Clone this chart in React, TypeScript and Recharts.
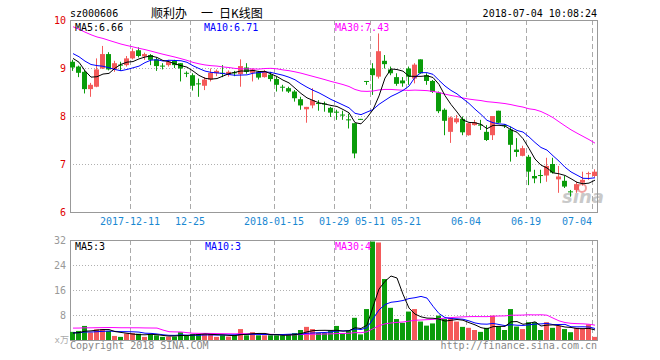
import {
  Bar,
  CartesianGrid,
  ComposedChart,
  Line,
  XAxis,
  YAxis,
} from 'recharts';

// trading days shown in the K-line window
const dates = [
  '2017-11-27', '2017-11-28', '2017-11-29', '2017-11-30', '2017-12-01', '2017-12-04', '2017-12-05', '2017-12-06', '2017-12-07', '2017-12-08',
  '2017-12-11', '2017-12-12', '2017-12-13', '2017-12-14', '2017-12-15', '2017-12-18', '2017-12-19', '2017-12-20', '2017-12-21', '2017-12-22',
  '2017-12-25', '2017-12-26', '2017-12-27', '2017-12-28', '2017-12-29', '2018-01-02', '2018-01-03', '2018-01-04', '2018-01-05', '2018-01-08',
  '2018-01-09', '2018-01-10', '2018-01-11', '2018-01-12', '2018-01-15', '2018-01-16', '2018-01-17', '2018-01-18', '2018-01-19', '2018-01-22',
  '2018-01-23', '2018-01-24', '2018-01-25', '2018-01-26', '2018-01-29', '2018-01-30', '2018-01-31', '2018-05-08', '2018-05-09', '2018-05-10',
  '2018-05-11', '2018-05-14', '2018-05-15', '2018-05-16', '2018-05-17', '2018-05-18', '2018-05-21', '2018-05-22', '2018-05-23', '2018-05-24',
  '2018-05-25', '2018-05-28', '2018-05-29', '2018-05-30', '2018-05-31', '2018-06-01', '2018-06-04', '2018-06-05', '2018-06-06', '2018-06-07',
  '2018-06-08', '2018-06-11', '2018-06-12', '2018-06-13', '2018-06-14', '2018-06-15', '2018-06-19', '2018-06-20', '2018-06-21', '2018-06-22',
  '2018-06-25', '2018-06-26', '2018-06-27', '2018-06-28', '2018-06-29', '2018-07-02', '2018-07-03', '2018-07-04',
];

const opens = [
  9.13, 9.03, 8.92, 8.56, 8.61, 8.99, 9.29, 8.97, 9.07, 9.06,
  9.20, 9.37, 9.24, 9.27, 9.18, 9.05, 9.06, 9.15, 9.10, 8.90,
  8.85, 8.68, 8.63, 8.76, 8.89, 8.90, 8.86, 8.91, 8.87, 9.01,
  8.90, 8.92, 8.81, 8.86, 8.77, 8.61, 8.58, 8.51, 8.35, 8.14,
  8.22, 8.27, 8.26, 8.17, 8.09, 8.03, 7.93, 7.85, 7.94, 8.73,
  8.99, 8.82, 9.15, 8.97, 8.81, 8.74, 8.99, 8.78, 9.18, 8.85,
  8.73, 8.49, 8.13, 7.67, 7.87, 7.94, 7.60, 7.81, 7.82, 7.67,
  7.60, 8.11, 7.81, 7.72, 7.30, 7.17, 7.15, 6.75, 6.77, 6.76,
  7.00, 6.68, 6.65, 6.43, 6.46, 6.61, 6.80, 6.75,
];

const highs = [
  9.17, 9.05, 8.96, 8.69, 9.20, 9.46, 9.33, 9.15, 9.13, 9.25,
  9.41, 9.43, 9.32, 9.29, 9.22, 9.10, 9.17, 9.17, 9.10, 8.93,
  8.89, 8.78, 8.81, 8.99, 8.97, 9.06, 8.95, 8.94, 9.18, 9.10,
  8.99, 8.94, 8.96, 8.92, 8.82, 8.65, 8.61, 8.54, 8.40, 8.19,
  8.58, 8.33, 8.30, 8.19, 8.13, 8.11, 8.05, 7.85, 7.94, 8.73,
  9.10, 9.72, 9.27, 9.03, 8.89, 8.81, 9.03, 9.10, 9.18, 8.89,
  8.75, 8.51, 8.16, 7.99, 8.02, 7.99, 7.85, 7.92, 7.92, 7.81,
  8.00, 8.11, 7.83, 7.78, 7.54, 7.38, 7.19, 6.88, 6.88, 7.13,
  7.13, 6.96, 6.75, 6.46, 6.63, 6.84, 6.84, 6.89,
];

const lows = [
  8.94, 8.81, 8.47, 8.40, 8.60, 8.98, 8.95, 8.92, 8.94, 9.03,
  9.18, 9.22, 9.17, 9.06, 8.94, 8.97, 9.03, 9.00, 8.72, 8.81,
  8.53, 8.40, 8.54, 8.72, 8.83, 8.81, 8.82, 8.83, 8.61, 8.88,
  8.72, 8.76, 8.80, 8.72, 8.51, 8.51, 8.48, 8.30, 8.13, 7.86,
  8.16, 8.11, 8.09, 7.98, 7.92, 7.92, 7.74, 7.12, 7.94, 8.65,
  8.44, 8.78, 8.99, 8.85, 8.63, 8.61, 8.65, 8.68, 8.88, 8.65,
  8.48, 8.06, 7.60, 7.44, 7.84, 7.60, 7.59, 7.80, 7.71, 7.48,
  7.50, 7.85, 7.75, 7.05, 7.15, 7.16, 6.56, 6.60, 6.60, 6.63,
  6.80, 6.40, 6.50, 6.32, 6.40, 6.55, 6.67, 6.73,
];

const closes = [
  9.01, 8.90, 8.56, 8.65, 8.97, 9.29, 8.97, 9.10, 9.05, 9.20,
  9.35, 9.25, 9.29, 9.17, 9.04, 9.03, 9.13, 9.06, 8.99, 8.88,
  8.63, 8.67, 8.76, 8.90, 8.94, 8.89, 8.92, 8.90, 9.04, 8.92,
  8.97, 8.80, 8.92, 8.77, 8.65, 8.60, 8.51, 8.37, 8.22, 8.19,
  8.33, 8.26, 8.25, 8.07, 8.08, 8.02, 7.92, 7.22, 7.94, 8.73,
  8.85, 9.35, 9.08, 8.89, 8.67, 8.68, 8.82, 9.07, 8.89, 8.73,
  8.50, 8.10, 7.90, 7.97, 7.95, 7.66, 7.85, 7.87, 7.80, 7.50,
  8.00, 7.86, 7.80, 7.40, 7.25, 7.33, 6.84, 6.70, 6.76, 6.96,
  6.82, 6.74, 6.53, 6.42, 6.58, 6.67, 6.81, 6.84,
];

// volume in 10k lots
const volumes = [
  2.6, 2.9, 4.5, 2.4, 3.4, 3.5, 2.9, 1.3, 1.0, 2.1,
  2.2, 2.0, 1.0, 1.8, 1.5, 1.0, 1.1, 1.1, 2.5, 1.4,
  1.9, 1.9, 1.9, 1.9, 1.0, 1.5, 1.1, 1.5, 3.5, 1.5,
  2.5, 1.5, 1.5, 1.5, 1.5, 1.5, 1.9, 2.2, 3.2, 4.2,
  3.5, 2.3, 2.3, 3.0, 4.5, 2.1, 2.9, 7.1, 1.8, 9.9,
  31.5, 31.2, 19.5, 10.3, 6.7, 5.5, 9.1, 9.9, 5.9, 4.6,
  5.3, 7.8, 6.7, 7.1, 5.9, 4.2, 3.9, 3.2, 2.6, 3.9,
  7.8, 4.3, 3.2, 9.9, 4.3, 3.5, 5.7, 5.7, 3.2, 5.7,
  3.9, 4.5, 3.5, 2.5, 3.9, 3.7, 5.0, 1.0,
];

// sessions before the window, only used to seed the moving averages
const priorCloses = [
  10.45, 10.38, 10.30, 10.35, 10.22, 10.18, 10.25, 10.20, 10.12, 10.19,
  10.15, 10.08, 10.12, 10.05, 9.98, 10.02, 9.95, 9.98, 9.93, 9.90,
  9.55, 9.48, 9.35, 9.20, 9.42, 9.30, 9.45, 9.31, 8.93,
];

const priorVolumes = [
  2.4, 2.1, 2.6, 2.2, 2.5, 2.0, 2.3, 2.4, 2.2, 2.5,
  2.1, 2.3, 2.4, 2.2, 20, 17, 3, 3, 8, 8,
  2.6, 2.2, 2.5, 2.3, 2.4, 2.0, 2.3, 1.9, 2.2,
];

const tickDates = ['2017-12-11', '2017-12-25', '2018-01-15', '2018-01-29', '2018-05-11', '2018-05-21', '2018-06-04', '2018-06-19', '2018-07-04'];
const tickTexts = ['2017-12-11', '12-25', '2018-01-15', '01-29', '05-11', '05-21', '06-04', '06-19', '07-04'];

const priceTicks = [6, 7, 8, 9, 10];
const volumeTicks = [0, 8, 16, 24, 32];

const UP = '#f45a5a';
const DOWN = '#0a9c0a';
const MONO = '"DejaVu Sans Mono", monospace';
const CJK = '"Noto Sans CJK SC", sans-serif';

const WIDTH = 660;
const PLOT_LEFT = 70;
const PLOT_RIGHT = 598;
const PRICE_TOP = 20;
const PRICE_BOTTOM = 212;
const VOL_TOP = 10;
const VOL_BOTTOM = 110;
const BAND = (PLOT_RIGHT - PLOT_LEFT) / dates.length;

function movingAverage(values: number[], prior: number[], n: number) {
  const all = [...prior, ...values];
  return values.map((_, i) => {
    const end = prior.length + i + 1;
    const win = all.slice(Math.max(0, end - n), end);
    return win.reduce((s, v) => s + v, 0) / win.length;
  });
}

const ma5 = movingAverage(closes, priorCloses, 5);
const ma10 = movingAverage(closes, priorCloses, 10);
const ma30 = movingAverage(closes, priorCloses, 30);
const vma5 = movingAverage(volumes, priorVolumes, 5);
const vma10 = movingAverage(volumes, priorVolumes, 10);
const vma30 = movingAverage(volumes, priorVolumes, 30);

const rows = dates.map((date, i) => ({
  date,
  open: opens[i],
  high: highs[i],
  low: lows[i],
  close: closes[i],
  range: [lows[i], highs[i]],
  ma5: ma5[i],
  ma10: ma10[i],
  ma30: ma30[i],
  volume: volumes[i],
  vma5: vma5[i],
  vma10: vma10[i],
  vma30: vma30[i],
}));

const last = dates.length - 1;
const gridXs = tickDates.map((d) => PLOT_LEFT + dates.indexOf(d) * BAND + 0.5);
const priceGridYs = [9, 8, 7].map((v) => PRICE_TOP + ((10 - v) / 4) * (PRICE_BOTTOM - PRICE_TOP) + 0.5);
const volGridYs = [24, 16, 8].map((v) => VOL_TOP + ((32 - v) / 32) * (VOL_BOTTOM - VOL_TOP) + 0.5);

function Candle(props: any) {
  const { x, y, height, payload } = props;
  const { open, close, high, low } = payload;
  const color = close > open ? UP : DOWN;
  const top = Math.min(y, y + height);
  const span = Math.abs(height);
  const toY = (v: number) => (high > low ? top + ((high - v) / (high - low)) * span : top);
  const left = Math.round(x);
  const bodyTop = toY(Math.max(open, close));
  const bodyH = Math.max(1, toY(Math.min(open, close)) - bodyTop);
  return (
    <g>
      <rect x={left + 2} y={top} width={1} height={Math.max(1, span)} fill={color} />
      <rect x={left} y={bodyTop} width={5} height={bodyH} fill={color} />
    </g>
  );
}

function VolumeBar(props: any) {
  const { x, y, height, payload } = props;
  const color = payload.close > payload.open ? UP : DOWN;
  return <rect x={Math.round(x)} y={y} width={5} height={Math.max(0, height)} fill={color} />;
}

function DateTick({ x, y, payload }: any) {
  const idx = tickDates.indexOf(payload.value);
  if (idx < 0) return <g />;
  const label = tickTexts[idx];
  const gx = x - BAND / 2;
  const atEdge = gx + label.length * 3 > PLOT_RIGHT - 4;
  return (
    <text
      x={gx}
      y={y + 13}
      textAnchor={atEdge ? 'end' : 'middle'}
      fontFamily={MONO}
      fontSize={10}
      fill="#1a88d2"
    >
      {label}
    </text>
  );
}

function PriceTick({ x, y, payload }: any) {
  return (
    <text x={x - 4} y={y + 3.5} textAnchor="end" fontFamily={MONO} fontSize={10} fill="#e00000">
      {payload.value}
    </text>
  );
}

function VolumeTick({ x, y, payload }: any) {
  if (payload.value === 0) {
    return (
      <text x={x - 1} y={y + 3} textAnchor="end" fontFamily={`${MONO}, ${CJK}`} fontSize={9} fill="#aaa">
        x万
      </text>
    );
  }
  return (
    <text x={x - 4} y={y + 3.5} textAnchor="end" fontFamily={MONO} fontSize={10} fill="#999">
      {payload.value}
    </text>
  );
}

const lineProps = { dot: false, activeDot: false, strokeWidth: 1, isAnimationActive: false };

export default function App() {
  return (
    <div style={{ position: 'absolute', left: 0, top: 0, width: WIDTH, height: 360, background: '#fff', overflow: 'hidden' }}>
      <svg width={WIDTH} height={360} style={{ position: 'absolute', left: 0, top: 0 }}>
        <text x={562} y={203} fontFamily="DejaVu Sans" fontStyle="italic" fontWeight="bold" fontSize={18} fill="#c9c9c9">
          sina
        </text>
        <circle cx={582} cy={188} r={4} fill="none" stroke="#f3a0a0" strokeWidth={2} />
      </svg>

      <div style={{ position: 'absolute', left: 0, top: 0 }}>
        <ComposedChart
          width={WIDTH}
          height={230}
          data={rows}
          margin={{ top: PRICE_TOP, right: WIDTH - PLOT_RIGHT, bottom: 0, left: 0 }}
          barCategoryGap={0}
        >
          <CartesianGrid vertical={false} horizontalPoints={priceGridYs} stroke="#b0b0b0" strokeDasharray="1 2" />
          <CartesianGrid horizontal={false} verticalPoints={gridXs} stroke="#aaa" strokeDasharray="5 3" />
          <CartesianGrid
            horizontalPoints={[PRICE_TOP + 0.5, PRICE_BOTTOM + 0.5]}
            verticalPoints={[PLOT_LEFT + 0.5, PLOT_RIGHT - 0.5]}
            stroke="#999"
          />
          <XAxis
            dataKey="date"
            interval={0}
            height={18}
            axisLine={false}
            tickLine={false}
            tickSize={0}
            tickMargin={0}
            tick={(p: any) => <DateTick {...p} />}
          />
          <YAxis
            domain={[6, 10]}
            ticks={priceTicks}
            allowDataOverflow
            width={PLOT_LEFT}
            axisLine={false}
            tickLine={false}
            tickSize={0}
            tickMargin={0}
            tick={(p: any) => <PriceTick {...p} />}
          />
          <Bar dataKey="range" barSize={6} shape={Candle} isAnimationActive={false} />
          <Line dataKey="ma30" stroke="#ff00ff" {...lineProps} />
          <Line dataKey="ma10" stroke="#0000ff" {...lineProps} />
          <Line dataKey="ma5" stroke="#000" {...lineProps} />
        </ComposedChart>
      </div>

      <div style={{ position: 'absolute', left: 0, top: 230 }}>
        <ComposedChart
          width={WIDTH}
          height={130}
          data={rows}
          margin={{ top: VOL_TOP, right: WIDTH - PLOT_RIGHT, bottom: 130 - VOL_BOTTOM, left: 0 }}
          barCategoryGap={0}
        >
          <CartesianGrid vertical={false} horizontalPoints={volGridYs} stroke="#b0b0b0" strokeDasharray="1 2" />
          <CartesianGrid horizontal={false} verticalPoints={gridXs} stroke="#aaa" strokeDasharray="5 3" />
          <CartesianGrid
            horizontalPoints={[VOL_TOP + 0.5, VOL_BOTTOM + 0.5]}
            verticalPoints={[PLOT_LEFT + 0.5, PLOT_RIGHT - 0.5]}
            stroke="#999"
          />
          <XAxis dataKey="date" hide />
          <YAxis
            domain={[0, 32]}
            ticks={volumeTicks}
            allowDataOverflow
            width={PLOT_LEFT}
            axisLine={false}
            tickLine={false}
            tickSize={0}
            tickMargin={0}
            tick={(p: any) => <VolumeTick {...p} />}
          />
          <Bar dataKey="volume" barSize={6} shape={VolumeBar} isAnimationActive={false} />
          <Line dataKey="vma30" stroke="#ff00ff" {...lineProps} />
          <Line dataKey="vma10" stroke="#0000ff" {...lineProps} />
          <Line dataKey="vma5" stroke="#000" {...lineProps} />
        </ComposedChart>
      </div>

      <svg width={WIDTH} height={360} style={{ position: 'absolute', left: 0, top: 0, pointerEvents: 'none' }}>
        <text x={70} y={17} fontFamily={MONO} fontSize={10} fill="#000">sz000606</text>
        <text x={151} y={17.5} fontFamily={CJK} fontSize={12} fill="#000">顺利办</text>
        <text x={201} y={17.5} fontFamily={CJK} fontSize={12} fill="#000">一</text>
        <text x={219} y={17.5} fontFamily={CJK} fontSize={12} fill="#000">日K线图</text>
        <text x={597} y={17} textAnchor="end" fontFamily={MONO} fontSize={10} fill="#000">2018-07-04 10:08:24</text>

        <text x={75} y={30.5} fontFamily={MONO} fontSize={10} fill="#000">{`MA5:${ma5[last].toFixed(2)}`}</text>
        <text x={204} y={30.5} fontFamily={MONO} fontSize={10} fill="#0000ff">{`MA10:${ma10[last].toFixed(2)}`}</text>
        <text x={335} y={30.5} fontFamily={MONO} fontSize={10} fill="#ff00ff">{`MA30:${ma30[last].toFixed(2)}`}</text>

        <text x={75} y={249.5} fontFamily={MONO} fontSize={10} fill="#000">{`MA5:${Math.floor(vma5[last])}`}</text>
        <text x={205} y={249.5} fontFamily={MONO} fontSize={10} fill="#0000ff">{`MA10:${Math.floor(vma10[last])}`}</text>
        <text x={335} y={249.5} fontFamily={MONO} fontSize={10} fill="#ff00ff">{`MA30:${Math.floor(vma30[last])}`}</text>

        <text x={70} y={349} fontFamily={MONO} fontSize={10} fill="#888">Copyright 2018 SINA.COM</text>
        <text x={597} y={349} textAnchor="end" fontFamily={MONO} fontSize={10} fill="#888">http://finance.sina.com.cn</text>
      </svg>
    </div>
  );
}
